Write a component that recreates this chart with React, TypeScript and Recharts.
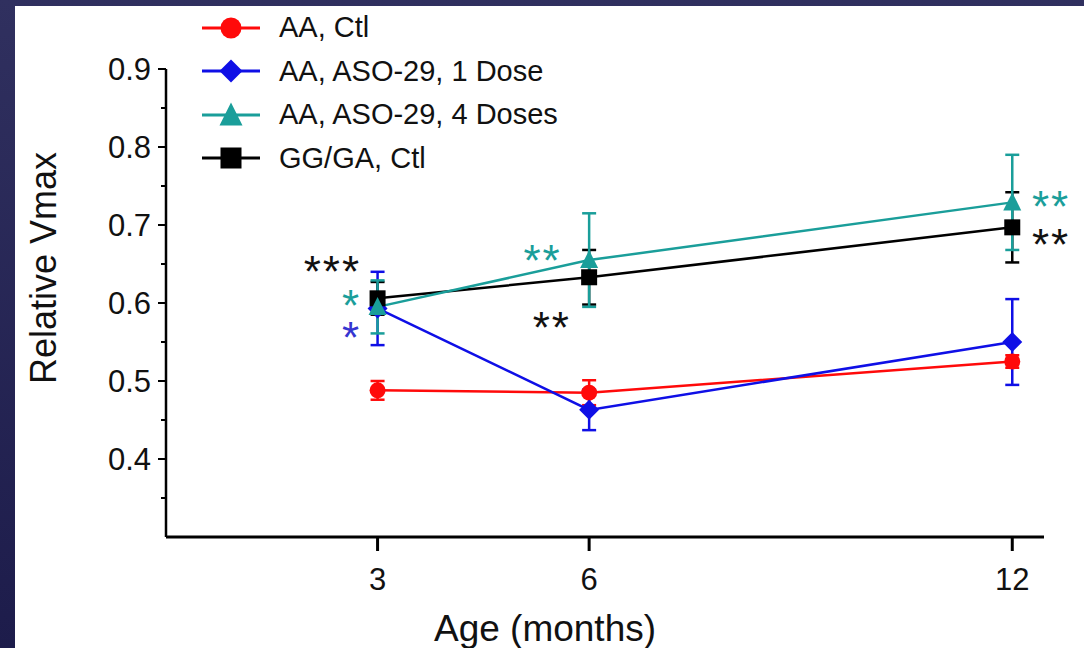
import React from "react";
import { ErrorBar, Label, Legend, Line, LineChart, ReferenceDot, XAxis, YAxis } from "recharts";

const FONT = '"Liberation Sans", Arial, sans-serif';

// months on the x axis
const ages = [3, 6, 12];

// mean relative Vmax and SEM for each group
const ctlMean = [0.488, 0.485, 0.525];
const ctlErr = [0.012, 0.016, 0.008];
const dose1Mean = [0.593, 0.463, 0.55];
const dose1Err = [0.047, 0.026, 0.055];
const dose4Mean = [0.595, 0.655, 0.729];
const dose4Err = [0.034, 0.06, 0.061];
const ggMean = [0.606, 0.633, 0.697];
const ggErr = [0.021, 0.035, 0.045];

const seriesNames = ["AA, Ctl", "AA, ASO-29, 1 Dose", "AA, ASO-29, 4 Doses", "GG/GA, Ctl"];

const xTicks = [3, 6, 12];
const yMajorTicks = [0.4, 0.5, 0.6, 0.7, 0.8, 0.9];
const yAllTicks = [0.35, 0.4, 0.45, 0.5, 0.55, 0.6, 0.65, 0.7, 0.75, 0.8, 0.85, 0.9];

// significance stars (data coordinates)
const starText = ["***", "*", "*", "**", "**", "**", "**"];
const starX = [2.36, 2.63, 2.63, 5.34, 5.47, 12.55, 12.55];
const starY = [0.653, 0.61, 0.568, 0.667, 0.582, 0.736, 0.688];
const starColor = ["#111", "#1a9e9a", "#3535d0", "#1a9e9a", "#111", "#1a9e9a", "#111"];

const RED = "#ff0a0a";
const BLUE = "#0f0fe6";
const TEAL = "#1a9e9a";
const BLACK = "#000";

const data = ages.map((age, i) => ({
  age,
  ctl: ctlMean[i],
  ctlErr: ctlErr[i],
  dose1: dose1Mean[i],
  dose1Err: dose1Err[i],
  dose4: dose4Mean[i],
  dose4Err: dose4Err[i],
  gg: ggMean[i],
  ggErr: ggErr[i],
}));

type Shape = "circle" | "diamond" | "triangle" | "square";

const Marker = ({ cx, cy, kind, color, s }: { cx: number; cy: number; kind: Shape; color: string; s: number }) => {
  if (cx == null || cy == null) return null;
  if (kind === "circle") return <circle cx={cx} cy={cy} r={s / 2} fill={color} />;
  if (kind === "diamond")
    return <polygon points={`${cx},${cy - s / 2 - 1} ${cx + s / 2 + 1},${cy} ${cx},${cy + s / 2 + 1} ${cx - s / 2 - 1},${cy}`} fill={color} />;
  if (kind === "triangle")
    return <polygon points={`${cx},${cy - s / 2 - 2} ${cx + s / 2 + 1},${cy + s / 2} ${cx - s / 2 - 1},${cy + s / 2}`} fill={color} />;
  return <rect x={cx - s / 2} y={cy - s / 2} width={s} height={s} fill={color} />;
};

const legendItems: { kind: Shape; color: string }[] = [
  { kind: "circle", color: RED },
  { kind: "diamond", color: BLUE },
  { kind: "triangle", color: TEAL },
  { kind: "square", color: BLACK },
];

const LegendBox = () => (
  <div style={{ fontFamily: FONT, fontSize: 29, color: "#111", whiteSpace: "nowrap" }}>
    {legendItems.map((it, i) => (
      <div key={i} style={{ display: "flex", alignItems: "center", height: 43.5 }}>
        <svg width={60} height={30}>
          <line x1={0} x2={58} y1={15} y2={15} stroke={it.color} strokeWidth={3} />
          <Marker cx={29} cy={15} kind={it.kind} color={it.color} s={21} />
        </svg>
        <span style={{ marginLeft: 17 }}>{seriesNames[i]}</span>
      </div>
    ))}
  </div>
);

// eslint-disable-next-line @typescript-eslint/no-explicit-any
const YTick = (props: any) => {
  const { x, y, payload } = props;
  const major = yMajorTicks.some((t) => Math.abs(t - payload.value) < 1e-6);
  return (
    <g>
      <line x1={x - (major ? 8 : 5)} x2={x} y1={y} y2={y} stroke="#000" strokeWidth={2} />
      {major && (
        <text x={x - 15} y={y} dy="0.36em" textAnchor="end" fontSize={31} fontFamily={FONT} fill="#111">
          {payload.value.toFixed(1)}
        </text>
      )}
    </g>
  );
};

// eslint-disable-next-line @typescript-eslint/no-explicit-any
const XTick = (props: any) => {
  const { x, y, payload } = props;
  return (
    <g>
      <line x1={x} x2={x} y1={y} y2={y + 14} stroke="#000" strokeWidth={3} />
      <text x={x} y={y + 53} textAnchor="middle" fontSize={31} fontFamily={FONT} fill="#111">
        {payload.value}
      </text>
    </g>
  );
};

// eslint-disable-next-line @typescript-eslint/no-explicit-any
const YTitle = (props: any) => {
  const { viewBox } = props;
  const cx = viewBox.x + 28;
  const cy = viewBox.y + viewBox.height / 2 - 35;
  return (
    <text x={cx} y={cy} transform={`rotate(-90, ${cx}, ${cy})`} textAnchor="middle" dy="0.36em" fontSize={36} fontFamily={FONT} fill="#111">
      Relative Vmax
    </text>
  );
};

// eslint-disable-next-line @typescript-eslint/no-explicit-any
const XTitle = (props: any) => {
  const { viewBox } = props;
  return (
    <text x={viewBox.x + viewBox.width / 2 - 60} y={viewBox.y + 104} textAnchor="middle" fontSize={37} fontFamily={FONT} fill="#111">
      Age (months)
    </text>
  );
};

// eslint-disable-next-line @typescript-eslint/no-explicit-any
const StarLabel = (props: any) => {
  const { viewBox, text, color } = props;
  return (
    <text x={viewBox.x + viewBox.width / 2} y={viewBox.y + viewBox.height / 2} dy="0.58em" textAnchor="middle" fontSize={44} letterSpacing={2} fontFamily={FONT} fill={color}>
      {text}
    </text>
  );
};

const dotOf = (kind: Shape, color: string, s: number) =>
  // eslint-disable-next-line @typescript-eslint/no-explicit-any
  (p: any) => <Marker key={`${kind}-${p.index}`} cx={p.cx} cy={p.cy} kind={kind} color={color} s={s} />;

export default function App() {
  return (
    <div style={{ position: "absolute", left: 0, top: 0, width: 1084, height: 648, background: "linear-gradient(#30305f, #1d1c4b)" }}>
      <div style={{ position: "absolute", left: 15, top: 6, width: 1069, height: 642, background: "#fff" }}>
        <LineChart width={1069} height={642} data={data} margin={{ top: 63, right: 40, left: 0, bottom: 0 }}>
          <XAxis
            dataKey="age"
            type="number"
            domain={[0, 12.45]}
            ticks={xTicks}
            allowDataOverflow
            height={111}
            tickSize={0}
            tickMargin={0}
            tickLine={false}
            axisLine={{ stroke: "#000", strokeWidth: 3 }}
            tick={<XTick />}
          >
            <Label content={<XTitle />} />
          </XAxis>
          <YAxis
            type="number"
            domain={[0.3, 0.9]}
            ticks={yAllTicks}
            allowDataOverflow
            width={151}
            tickSize={0}
            tickMargin={0}
            tickLine={false}
            axisLine={{ stroke: "#000", strokeWidth: 2.5 }}
            tick={<YTick />}
          >
            <Label content={<YTitle />} />
          </YAxis>
          <Legend layout="vertical" align="center" verticalAlign="middle" wrapperStyle={{ left: 187, top: 0, width: "auto" }} content={<LegendBox />} />
          <Line dataKey="ctl" name={seriesNames[0]} stroke={RED} strokeWidth={2.5} isAnimationActive={false} dot={dotOf("circle", RED, 16)} activeDot={false}>
            <ErrorBar dataKey="ctlErr" direction="y" width={7} stroke={RED} strokeWidth={2.5} />
          </Line>
          <Line dataKey="dose1" name={seriesNames[1]} stroke={BLUE} strokeWidth={2.5} isAnimationActive={false} dot={dotOf("diamond", BLUE, 18)} activeDot={false}>
            <ErrorBar dataKey="dose1Err" direction="y" width={7} stroke={BLUE} strokeWidth={2.5} />
          </Line>
          <Line dataKey="gg" name={seriesNames[3]} stroke={BLACK} strokeWidth={2.5} isAnimationActive={false} dot={dotOf("square", BLACK, 16)} activeDot={false}>
            <ErrorBar dataKey="ggErr" direction="y" width={7} stroke={BLACK} strokeWidth={2.5} />
          </Line>
          <Line dataKey="dose4" name={seriesNames[2]} stroke={TEAL} strokeWidth={2.5} isAnimationActive={false} dot={dotOf("triangle", TEAL, 16)} activeDot={false}>
            <ErrorBar dataKey="dose4Err" direction="y" width={7} stroke={TEAL} strokeWidth={2.5} />
          </Line>
          {starText.map((t, i) => (
            <ReferenceDot
              key={`star-${i}`}
              x={starX[i]}
              y={starY[i]}
              r={0}
              fill="none"
              stroke="none"
              ifOverflow="visible"
              label={<StarLabel text={t} color={starColor[i]} />}
            />
          ))}
        </LineChart>
      </div>
    </div>
  );
}
